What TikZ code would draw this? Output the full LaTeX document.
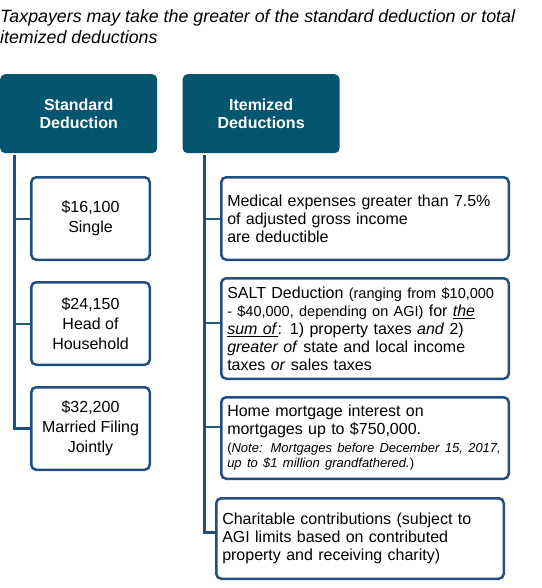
\documentclass[tikz,border=0pt]{standalone}
\usepackage{fontspec}
\setmainfont{Liberation Sans}
\usetikzlibrary{positioning}
\definecolor{headteal}{RGB}{3, 86, 110}
\definecolor{boxblue}{RGB}{31, 78, 128}
\definecolor{branchteal}{RGB}{30, 95, 112}

\tikzset{
    headbox/.style={fill=headteal, rounded corners=5pt, text=white, inner sep=0pt,
        font=\fontsize{16}{18}\selectfont\bfseries, align=center,
        minimum width=157pt, minimum height=79pt},
    amountbox/.style={draw=boxblue, line width=2.5pt, rounded corners=5pt, inner sep=0pt,
        font=\fontsize{16}{20}\selectfont, align=center,
        minimum width=118.5pt, minimum height=82.5pt},
    itembox/.style={draw=boxblue, line width=2.5pt, rounded corners=5pt,
        inner xsep=6pt, inner ysep=0pt, font=\fontsize{16}{18}\selectfont,
        align=left, text width=275.5pt},
    trunk/.style={draw=boxblue, line width=3pt},
    branch/.style={draw=branchteal, line width=2pt}
}

\begin{document}
\begin{tikzpicture}[x=1pt, y=-1pt]
    \useasboundingbox (0,0) rectangle (541,588);

    % title
    \node[anchor=north west, inner sep=0pt, align=left,
          font=\fontsize{17.8}{21}\selectfont\itshape] (title) at (0,9.5)
        {Taxpayers may take the greater of the standard deduction or total\\itemized deductions};

    % column heads
    \node[headbox, anchor=north west] (standard) at (0,74) {Standard\\Deduction};
    \node[headbox, right=25pt of standard] (itemized) {Itemized\\Deductions};

    % standard deduction amounts
    \node[amountbox, anchor=north west] (single) at (30,176) {\$16,100\\Single};
    \node[amountbox, below=20pt of single] (household) {\$24,150\\Head of\\Household};
    \node[amountbox, below=20pt of household] (married) {\$32,200\\Married Filing\\Jointly};

    % itemized deductions
    \node[itembox, minimum height=82.5pt, anchor=north west] (medical) at (220,176)
        {Medical expenses greater than 7.5\%\\of adjusted gross income\\are deductible};
    \node[itembox, minimum height=100.5pt, below=16pt of medical] (salt)
        {SALT Deduction {\fontsize{14.5}{18}\selectfont(ranging from \$10,000\\- \$40,000, depending on AGI)}
         for \underline{\textit{the}}\\\underline{\textit{sum of}}: 1) property taxes \textit{and} 2)\\
         \textit{greater of} state and local income\\taxes \textit{or} sales taxes};
    \node[itembox, minimum height=81.5pt, below=16pt of salt] (mortgage)
        {Home mortgage interest on\\mortgages up to \$750,000.\\
         {\fontsize{13}{18}\selectfont(\textit{Note: Mortgages before December 15, 2017,}\\[-3pt]
         \textit{up to \$1 million grandfathered.})}};
    \node[itembox, minimum height=80.5pt, below=17pt of mortgage, xshift=-5pt] (charity)
        {Charitable contributions (subject to\\AGI limits based on contributed\\property and receiving charity)};

    % connectors
    \coordinate (standardtrunk) at (14.5,155);
    \coordinate (itemizedtrunk) at (204,155);
    \coordinate (saltin) at ([yshift=6pt]salt.west);
    \coordinate (mortgagein) at ([yshift=11pt]mortgage.west);
    \coordinate (charityin) at ([yshift=6.5pt]charity.west);

    \draw[branch] (standardtrunk |- single.west) -- (single.west);
    \draw[branch] (standardtrunk |- household.west) -- (household.west);
    \draw[trunk] (standardtrunk) |- (married.west);

    \draw[branch] (itemizedtrunk |- medical.west) -- (medical.west);
    \draw[branch] (itemizedtrunk |- saltin) -- (saltin);
    \draw[branch] (itemizedtrunk |- mortgagein) -- (mortgagein);
    \draw[trunk] (itemizedtrunk) |- (charityin);
\end{tikzpicture}
\end{document}
